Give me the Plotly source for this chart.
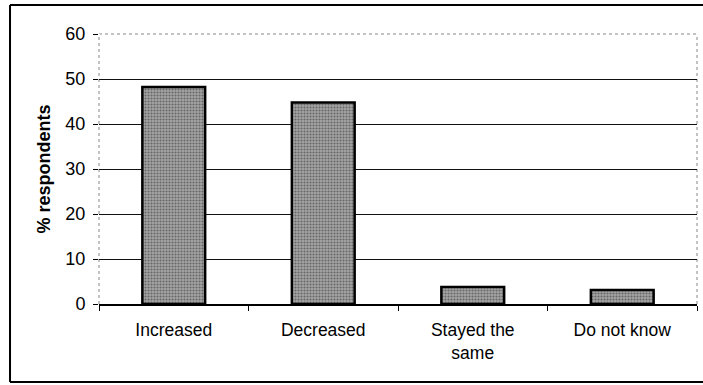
import plotly.graph_objects as go

# Survey result: share of respondents per answer
categories = ["Increased", "Decreased", "Stayed the<br>same", "Do not know"]
percent = [48.2, 44.8, 3.8, 3.1]
y_ticks = [0, 10, 20, 30, 40, 50, 60]

FONT = "Arial, Liberation Sans, sans-serif"

fig = go.Figure(
    go.Bar(
        x=categories,
        y=percent,
        width=0.42,
        marker=dict(
            color="#909090",
            line=dict(color="black", width=2.5),
            pattern=dict(shape=".", fgcolor="#2a2a2a", bgcolor="#a4a4a4",
                         size=3, solidity=0.4, fillmode="overlay"),
        ),
    )
)

fig.update_layout(
    width=703,
    height=385,
    margin=dict(l=99, r=6, t=34, b=81),
    paper_bgcolor="white",
    plot_bgcolor="white",
    showlegend=False,
    font=dict(family=FONT, size=17, color="black"),
    bargap=0.58,
)

fig.update_xaxes(
    type="category",
    tickson="boundaries",
    ticks="outside",
    ticklen=5,
    tickcolor="black",
    showline=True,
    linecolor="black",
    linewidth=1.5,
    showgrid=False,
    ticklabelstandoff=9,
    tickfont=dict(size=17.5),
)

fig.update_yaxes(
    range=[0, 60],
    tickvals=y_ticks,
    ticks="outside",
    ticklen=5,
    tickcolor="black",
    showgrid=True,
    gridcolor="#111111",
    gridwidth=1,
    zeroline=False,
    showline=False,
    ticklabelstandoff=4,
    tickfont=dict(size=18),
    title=dict(text="<b>% respondents</b>", font=dict(size=18), standoff=10),
)

# Dotted frame on top, left and right of the plotting area
for x0, y0, x1, y1 in [(0, 1, 1, 1), (0, 0, 0, 1), (1, 0, 1, 1)]:
    fig.add_shape(type="line", xref="paper", yref="paper", x0=x0, y0=y0, x1=x1, y1=y1,
                  line=dict(color="white", width=2), layer="between")
    fig.add_shape(type="line", xref="paper", yref="paper", x0=x0, y0=y0, x1=x1, y1=y1,
                  line=dict(color="#888888", width=1, dash="dot"), layer="between")

# Outer chart border
bx0, bx1 = -0.1488, 1.02
by0, by1 = -0.2889, 1.1074
for x0, y0, x1, y1 in [(bx0, by1, bx1, by1), (bx0, by0, bx0, by1), (bx0, by0, bx1, by0)]:
    fig.add_shape(type="line", xref="paper", yref="paper", x0=x0, y0=y0, x1=x1, y1=y1,
                  line=dict(color="black", width=2), layer="above")

fig.write_html("out.html")
